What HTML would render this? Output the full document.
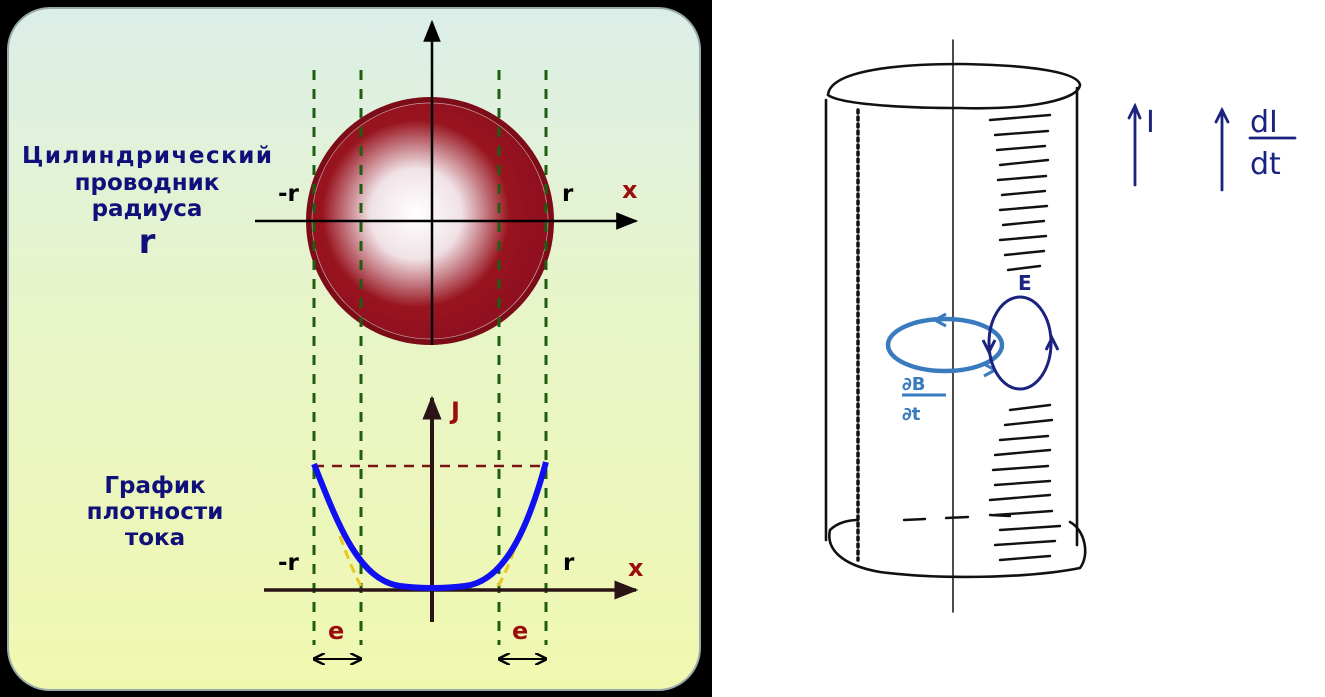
<!DOCTYPE html>
<html><head><meta charset="utf-8"><style>
html,body{margin:0;padding:0;background:#fff;}
svg{display:block;}
text{font-family:"DejaVu Sans","Liberation Sans",sans-serif;font-weight:bold;}
</style></head><body>
<svg width="1325" height="697" viewBox="0 0 1325 697" xmlns="http://www.w3.org/2000/svg">
<defs>
<linearGradient id="bg" x1="0" y1="0" x2="0" y2="1">
<stop offset="0" stop-color="#dceee9"/><stop offset="0.45" stop-color="#e8f5c8"/><stop offset="1" stop-color="#f0f8b0"/>
</linearGradient>
<radialGradient id="ball" cx="0.44" cy="0.47" r="0.55">
<stop offset="0" stop-color="#ffffff"/><stop offset="0.35" stop-color="#f0e2e6"/><stop offset="0.72" stop-color="#98141f"/><stop offset="1" stop-color="#901020"/>
</radialGradient>
<marker id="ahs" viewBox="0 0 10 10" markerWidth="22" markerHeight="22" refX="9" refY="5" orient="auto" markerUnits="userSpaceOnUse"><path d="M0,1 L10,5 L0,9 Z" fill="#000"/></marker>
<marker id="ahb" viewBox="0 0 10 10" markerWidth="24" markerHeight="24" refX="9" refY="5" orient="auto" markerUnits="userSpaceOnUse"><path d="M0,1 L10,5 L0,9 Z" fill="#2a1416"/></marker>
<marker id="dh" viewBox="0 0 10 10" markerWidth="12" markerHeight="12" refX="9" refY="5" orient="auto-start-reverse" markerUnits="userSpaceOnUse"><path d="M0,0 L10,5 L0,10" fill="none" stroke="#000" stroke-width="2"/></marker>
</defs>
<rect x="0" y="0" width="712" height="697" fill="#000"/>
<rect x="8" y="8" width="692" height="682" rx="42" fill="url(#bg)" stroke="#9aa" stroke-width="2"/>
<circle cx="430" cy="221" r="124" fill="#7c0d18"/>
<circle cx="430" cy="221" r="118" fill="url(#ball)" stroke="#c8a0a0" stroke-width="0.7"/>
<g stroke="#1f5e12" stroke-width="3" stroke-dasharray="10,9">
<line x1="314" y1="70" x2="314" y2="645"/><line x1="361" y1="70" x2="361" y2="645"/>
<line x1="499" y1="70" x2="499" y2="645"/><line x1="546" y1="70" x2="546" y2="645"/>
</g>
<line x1="432" y1="345" x2="432" y2="22" stroke="#000" stroke-width="2.5" marker-end="url(#ahs)"/>
<line x1="255" y1="221" x2="636" y2="221" stroke="#000" stroke-width="2.5" marker-end="url(#ahs)"/>
<line x1="314" y1="466" x2="546" y2="466" stroke="#7a1414" stroke-width="2.5" stroke-dasharray="10,8"/>
<line x1="432" y1="622" x2="432" y2="398" stroke="#2a1416" stroke-width="4" marker-end="url(#ahb)"/>
<line x1="264" y1="590" x2="636" y2="590" stroke="#2a1416" stroke-width="3.5" marker-end="url(#ahb)"/>
<path d="M340,536 Q352,570 362,588 M519,536 Q508,570 497,588" fill="none" stroke="#e8c820" stroke-width="3" stroke-dasharray="9,6"/>
<path d="M314,464 C340,530 360,580 400,586 Q432,590 465,586 C500,582 525,540 546,462" fill="none" stroke="#1010f0" stroke-width="6"/>
<line x1="314" y1="659" x2="361" y2="659" stroke="#000" stroke-width="2" marker-start="url(#dh)" marker-end="url(#dh)"/>
<line x1="499" y1="659" x2="546" y2="659" stroke="#000" stroke-width="2" marker-start="url(#dh)" marker-end="url(#dh)"/>
<g fill="#10107a" font-size="23" text-anchor="middle">
<text x="147" y="163" textLength="250">Цилиндрический</text>
<text x="147" y="190">проводник</text>
<text x="147" y="216">радиуса</text>
<text x="147" y="253" font-size="34">r</text>
<text x="155" y="493">График</text>
<text x="155" y="519">плотности</text>
<text x="155" y="545">тока</text>
</g>
<g fill="#000" font-size="23">
<text x="278" y="201">-r</text><text x="562" y="201">r</text>
<text x="278" y="570">-r</text><text x="563" y="570">r</text>
</g>
<g fill="#9a0d0d" font-size="24">
<text x="622" y="198">x</text><text x="628" y="576">x</text>
<text x="451" y="419">J</text>
<text x="328" y="639">e</text><text x="512" y="639">e</text>
</g>
<g fill="none" stroke="#111" stroke-width="2.6" stroke-linecap="round">
<line x1="953" y1="40" x2="953" y2="612" stroke-width="1.5"/>
<path d="M828,95 C830,70 900,64 960,64 C1030,65 1078,72 1080,85 C1078,100 1030,110 960,108 C900,108 840,104 828,95 Z"/>
<line x1="826" y1="100" x2="826" y2="540"/>
<line x1="1077" y1="88" x2="1077" y2="545"/>
<path d="M830,530 C826,548 840,565 880,572 C940,580 1030,578 1080,568 C1090,555 1085,530 1070,522"/>
<path d="M830,530 C838,522 850,520 858,520" />
<path d="M904,520 L925,519 M946,518 L968,517 M990,515 L1010,516" stroke-width="2.4"/>
</g>
<g stroke="#111" stroke-width="2.4" stroke-linecap="round">
<path d="M990,120 L1050,115 M995,135 L1048,131 M997,150 L1045,146 M1000,165 L1048,160 M998,180 L1046,176 M1002,195 L1045,191 M1000,210 L1047,206 M1003,225 L1044,221 M1000,240 L1046,236 M1005,255 L1044,251 M1008,270 L1040,266"/>
<path d="M1010,410 L1050,405 M1005,425 L1052,420 M1000,440 L1048,436 M995,455 L1050,450 M993,470 L1048,466 M995,485 L1050,481 M990,500 L1050,495 M995,515 L1052,511 M1000,530 L1060,526 M995,545 L1055,541 M1000,560 L1050,556"/>
<path d="M858,110 L858,560" stroke-dasharray="3,4" stroke-width="3.5"/>
</g>
<g stroke="#1a237e" stroke-width="2.8" fill="none" stroke-linecap="round">
<line x1="1135" y1="185" x2="1135" y2="106"/><path d="M1129,118 L1135,106 L1140,118"/>
<line x1="1222" y1="190" x2="1222" y2="110"/><path d="M1216,122 L1222,110 L1228,122"/>
<line x1="1250" y1="138" x2="1295" y2="138"/>
</g>
<g fill="#1a237e">
<text x="1146" y="132" font-size="30" style="font-weight:normal">I</text>
<text x="1250" y="132" font-size="30" style="font-weight:normal">dI</text>
<text x="1250" y="174" font-size="30" style="font-weight:normal">dt</text>
<text x="1018" y="290" font-size="20">E</text>
</g>
<ellipse cx="945" cy="345" rx="57" ry="26" fill="none" stroke="#3a7bbf" stroke-width="4.5"/>
<path d="M935,320 L946,314 M935,320 L946,326 M995,370 L984,364 M995,370 L984,376" stroke="#3a7bbf" stroke-width="3" fill="none"/>
<ellipse cx="1020" cy="343" rx="31" ry="46" fill="none" stroke="#1a237e" stroke-width="3"/>
<path d="M983,340 L989,352 L995,340 M1046,350 L1052,338 L1058,350" stroke="#1a237e" stroke-width="3" fill="none"/>
<g fill="#3a7bbf" font-size="18">
<text x="902" y="390">∂B</text>
<line x1="902" y1="395" x2="946" y2="395" stroke="#3a7bbf" stroke-width="3"/>
<text x="902" y="420">∂t</text>
</g>
</svg>
</body></html>
